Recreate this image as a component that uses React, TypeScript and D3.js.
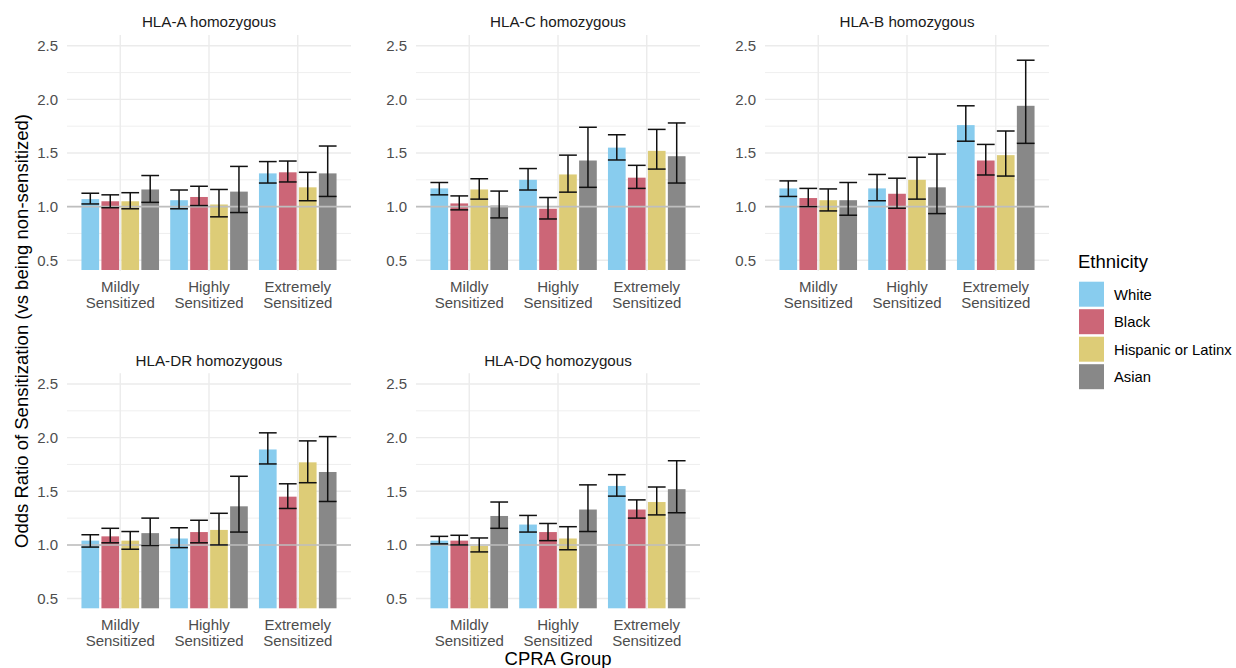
import React from "react";
import * as d3 from "d3";

const panels = ["HLA-A homozygous", "HLA-C homozygous", "HLA-B homozygous", "HLA-DR homozygous", "HLA-DQ homozygous"];
const groups = ["Mildly Sensitized", "Highly Sensitized", "Extremely Sensitized"];
const ethnicities = ["White", "Black", "Hispanic or Latinx", "Asian"];
const colors = ["#88CCEE", "#CC6677", "#DDCC77", "#888888"];
const yTicks = [0.5, 1.0, 1.5, 2.0, 2.5];
const yMinor = [0.75, 1.25, 1.75, 2.25];

// odds ratios: [panel][group][ethnicity]
const oddsRatio = [
  [[1.07, 1.05, 1.05, 1.16], [1.06, 1.09, 1.02, 1.14], [1.31, 1.32, 1.18, 1.31]],
  [[1.17, 1.03, 1.16, 1.01], [1.25, 0.98, 1.30, 1.43], [1.55, 1.27, 1.52, 1.47]],
  [[1.17, 1.08, 1.06, 1.06], [1.17, 1.12, 1.25, 1.18], [1.76, 1.43, 1.48, 1.94]],
  [[1.04, 1.08, 1.04, 1.11], [1.06, 1.12, 1.14, 1.36], [1.89, 1.45, 1.77, 1.68]],
  [[1.04, 1.04, 0.99, 1.27], [1.19, 1.12, 1.06, 1.33], [1.55, 1.33, 1.40, 1.52]],
];
const ciLower = [
  [[1.025, 0.99, 0.98, 1.04], [0.98, 1.01, 0.905, 0.945], [1.22, 1.23, 1.055, 1.095]],
  [[1.11, 0.97, 1.07, 0.895], [1.155, 0.885, 1.135, 1.18], [1.435, 1.17, 1.35, 1.22]],
  [[1.095, 1.0, 0.96, 0.92], [1.055, 0.985, 1.07, 0.935], [1.61, 1.295, 1.285, 1.59]],
  [[0.98, 1.02, 0.96, 0.995], [0.975, 1.02, 1.0, 1.12], [1.755, 1.34, 1.58, 1.405]],
  [[1.01, 1.0, 0.935, 1.155], [1.12, 1.04, 0.955, 1.125], [1.455, 1.25, 1.28, 1.30]],
];
const ciUpper = [
  [[1.125, 1.11, 1.13, 1.29], [1.155, 1.19, 1.16, 1.375], [1.42, 1.425, 1.32, 1.565]],
  [[1.225, 1.10, 1.26, 1.145], [1.355, 1.085, 1.48, 1.74], [1.67, 1.385, 1.72, 1.78]],
  [[1.24, 1.17, 1.165, 1.225], [1.30, 1.265, 1.46, 1.49], [1.94, 1.58, 1.705, 2.365]],
  [[1.095, 1.155, 1.125, 1.25], [1.16, 1.23, 1.295, 1.64], [2.045, 1.57, 1.97, 2.01]],
  [[1.08, 1.09, 1.065, 1.40], [1.275, 1.20, 1.17, 1.56], [1.655, 1.42, 1.54, 1.785]],
];

const PW = 284;
const PH = 236;
const colX = [67, 416, 765];
const rowY = [35, 373.3];
const FONT = "'Liberation Sans', Arial, Helvetica, sans-serif";

function Panel({ idx }: { idx: number }) {
  const left = colX[idx % 3];
  const top = rowY[Math.floor(idx / 3)];
  const y = d3.scaleLinear().domain([0.4, 2.6]).range([PH, 0]);
  const x = d3.scalePoint<string>().domain(groups).range([0, PW]).padding(0.6);
  const step = x.step();
  const sub = d3.scaleBand<string>().domain(ethnicities).range([-0.45 * step, 0.45 * step]);
  const bw = sub.bandwidth();
  const gap = 2.3;
  const capW = 0.2 * step;
  const clipId = `clip-${idx}`;
  return (
    <g transform={`translate(${left},${top})`}>
      <defs>
        <clipPath id={clipId}>
          <rect x={0} y={0} width={PW} height={PH} />
        </clipPath>
      </defs>
      <text x={PW / 2} y={-7.7} textAnchor="middle" fontSize={15.2} fill="#1a1a1a" fontFamily={FONT}>
        {panels[idx]}
      </text>
      {yMinor.map((t) => (
        <line key={"mn" + t} x1={0} x2={PW} y1={y(t)} y2={y(t)} stroke="#EBEBEB" strokeWidth={0.8} />
      ))}
      {yTicks.map((t) => (
        <line key={"mj" + t} x1={0} x2={PW} y1={y(t)} y2={y(t)} stroke="#EBEBEB" strokeWidth={1.4} />
      ))}
      {groups.map((g) => (
        <line key={"vx" + g} x1={x(g)!} x2={x(g)!} y1={0} y2={PH} stroke="#EBEBEB" strokeWidth={1.4} />
      ))}
      {yTicks.map((t) => (
        <text key={"yt" + t} x={-9} y={y(t)} dy="0.36em" textAnchor="end" fontSize={15} fill="#4D4D4D" fontFamily={FONT}>
          {t.toFixed(1)}
        </text>
      ))}
      {groups.map((g) => {
        const parts = g.split(" ");
        return (
          <text key={"xt" + g} x={x(g)!} y={PH + 20.5} textAnchor="middle" fontSize={15} fill="#4D4D4D" fontFamily={FONT}>
            <tspan x={x(g)!}>{parts[0]}</tspan>
            <tspan x={x(g)!} dy={16}>{parts[1]}</tspan>
          </text>
        );
      })}
      <g clipPath={`url(#${clipId})`}>
        {groups.map((g, gi) =>
          ethnicities.map((e, ei) => {
            const v = oddsRatio[idx][gi][ei];
            const bx = x(g)! + sub(e)!;
            return (
              <rect
                key={"b" + gi + ei}
                x={bx + gap / 2}
                y={y(v)}
                width={bw - gap}
                height={PH - y(v) - 1}
                fill={colors[ei]}
              />
            );
          })
        )}
      </g>
      <line x1={0} x2={PW} y1={y(1)} y2={y(1)} stroke="#BEBEBE" strokeWidth={1.6} />
      {groups.map((g, gi) =>
        ethnicities.map((e, ei) => {
          const cx = x(g)! + sub(e)! + bw / 2;
          const lo = y(ciLower[idx][gi][ei]);
          const hi = y(ciUpper[idx][gi][ei]);
          return (
            <g key={"e" + gi + ei} stroke="#111111" strokeWidth={1.5}>
              <line x1={cx} x2={cx} y1={lo} y2={hi} />
              <line x1={cx - capW / 2} x2={cx + capW / 2} y1={lo} y2={lo} />
              <line x1={cx - capW / 2} x2={cx + capW / 2} y1={hi} y2={hi} />
            </g>
          );
        })
      )}
    </g>
  );
}

export default function App() {
  return (
    <svg width={1236} height={668} style={{ position: "absolute", left: 0, top: 0, background: "#fff" }}>
      <rect x={0} y={0} width={1236} height={668} fill="#ffffff" />
      {panels.map((p, i) => (
        <Panel key={p} idx={i} />
      ))}
      <text
        transform="translate(21,331) rotate(-90)"
        textAnchor="middle"
        dy="0.36em"
        fontSize={18.5}
        fill="#000"
        fontFamily={FONT}
      >
        Odds Ratio of Sensitization (vs being non-sensitized)
      </text>
      <text x={558} y={665} textAnchor="middle" fontSize={18.5} fill="#000" fontFamily={FONT}>
        CPRA Group
      </text>
      <g transform="translate(1079,268)">
        <text x={-1} y={0} fontSize={18.5} fill="#000" fontFamily={FONT}>
          Ethnicity
        </text>
        {ethnicities.map((e, i) => (
          <g key={e} transform={`translate(0,${13.7 + i * 27.5})`}>
            <rect x={0} y={0} width={25} height={25} fill={colors[i]} />
            <text x={35} y={12.5} dy="0.36em" fontSize={14.8} fill="#000" fontFamily={FONT}>
              {e}
            </text>
          </g>
        ))}
      </g>
    </svg>
  );
}
